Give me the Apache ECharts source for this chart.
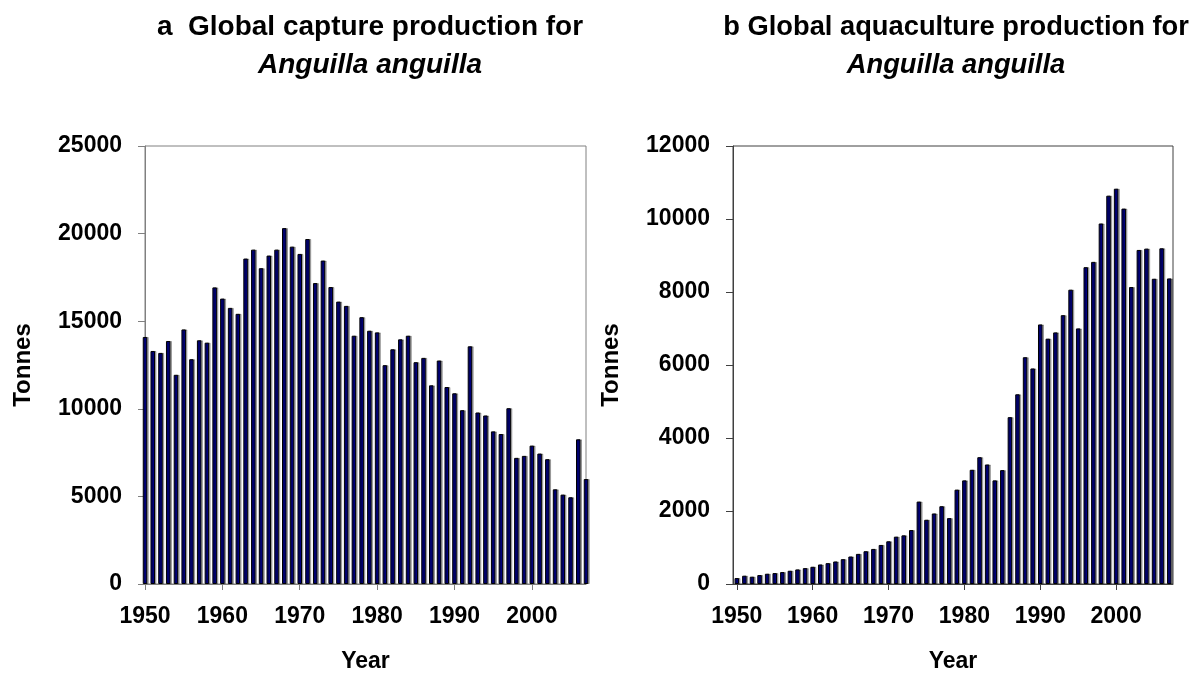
<!DOCTYPE html>
<html>
<head>
<meta charset="utf-8">
<script src="https://cdn.jsdelivr.net/npm/echarts@6/dist/echarts.min.js"></script>
<style>
html,body{margin:0;padding:0;background:#fff;}
#chart{width:1196px;height:678px;}
</style>
</head>
<body>
<div id="chart"></div>
<script>
const years = ['1950','1951','1952','1953','1954','1955','1956','1957','1958','1959',
  '1960','1961','1962','1963','1964','1965','1966','1967','1968','1969',
  '1970','1971','1972','1973','1974','1975','1976','1977','1978','1979',
  '1980','1981','1982','1983','1984','1985','1986','1987','1988','1989',
  '1990','1991','1992','1993','1994','1995','1996','1997','1998','1999',
  '2000','2001','2002','2003','2004','2005','2006','2007'];

const capture = [14100, 13300, 13190, 13870, 11940, 14530, 12830, 13910, 13775, 16930,
  16290, 15760, 15420, 18575, 19085, 18025, 18745, 19085, 20313, 19255,
  18840, 19690, 17176, 18461, 16950, 16118, 15873, 14172, 15230, 14455,
  14361, 12490, 13397, 13964, 14172, 12660, 12906, 11338, 12755, 11243,
  10884, 9920, 13567, 9788, 9618, 8711, 8560, 10034, 7199, 7313,
  7899, 7445, 7124, 5404, 5102, 4951, 8258, 5990];

const aquaculture = [163, 227, 200, 245, 281, 299, 327, 363, 399, 435,
  472, 535, 571, 617, 680, 753, 825, 898, 961, 1070,
  1170, 1297, 1333, 1478, 2258, 1760, 1932, 2131, 1805, 2585,
  2839, 3129, 3474, 3274, 2839, 3120, 4571, 5197, 6213, 5905,
  7111, 6721, 6893, 7365, 8063, 7002, 8680, 8825, 9877, 10639,
  10830, 10285, 8136, 9152, 9188, 8363, 9197, 8372];

const ticksA = [0, 5000, 10000, 15000, 20000, 25000];
const ticksB = [0, 2000, 4000, 6000, 8000, 10000, 12000];

const titleA1 = 'a  Global capture production for';
const titleB1 = 'b Global aquaculture production for';
const species = 'Anguilla anguilla';
const yName = 'Tonnes';
const xName = 'Year';

const FONT = '"Liberation Sans", Arial, Helvetica, sans-serif';
const chart = echarts.init(document.getElementById('chart'), null, {renderer: 'canvas'});

function titleRich(size) {
  return {
    t: {fontFamily: FONT, fontWeight: 'bold', fontSize: size, color: '#000', lineHeight: 38},
    i: {fontFamily: FONT, fontWeight: 'bold', fontStyle: 'italic', fontSize: size, color: '#000', lineHeight: 38}
  };
}

function xAxis(idx, boundary, frameColor) {
  return {
    type: 'category', gridIndex: idx, data: years, boundaryGap: boundary,
    name: xName, nameLocation: 'middle', nameGap: 66,
    nameTextStyle: {fontFamily: FONT, fontWeight: 'bold', fontSize: 23, color: '#000'},
    axisLine: {show: true, lineStyle: {color: frameColor, width: 1}},
    axisTick: {show: true, interval: 9, alignWithLabel: true, length: 6, inside: false, lineStyle: {color: frameColor}},
    axisLabel: {interval: 9, margin: 21, fontFamily: FONT, fontWeight: 'bold', fontSize: 23, color: '#000'},
    splitLine: {show: false}
  };
}

function yAxis(idx, ticks, frameColor) {
  return {
    type: 'value', gridIndex: idx,
    min: ticks[0], max: ticks[ticks.length - 1], interval: ticks[1] - ticks[0],
    name: yName, nameLocation: 'middle', nameRotate: 90, nameGap: 110,
    nameTextStyle: {fontFamily: FONT, fontWeight: 'bold', fontSize: 24, color: '#000'},
    axisLine: {show: true, lineStyle: {color: frameColor, width: 1}},
    axisTick: {show: true, length: 7, inside: false, lineStyle: {color: frameColor}},
    axisLabel: {margin: 23, fontFamily: FONT, fontWeight: 'bold', fontSize: 23, color: '#000',
      formatter: v => String(v)},
    splitLine: {show: false}
  };
}

const barStyle = {
  color: '#000080', borderColor: '#000000', borderWidth: 1,
  shadowColor: 'rgba(0,0,0,0.3)', shadowOffsetX: 1.5, shadowOffsetY: 0, shadowBlur: 0
};

chart.setOption({
  animation: false,
  backgroundColor: '#ffffff',
  title: [
    {text: '{t|' + titleA1 + '}\n{i|' + species + '}', left: 365, top: 3, textAlign: 'center',
      textStyle: {rich: titleRich(28)}},
    {text: '{t|' + titleB1 + '}\n{i|' + species + '}', left: 951, top: 3, textAlign: 'center',
      textStyle: {rich: titleRich(27.3)}}
  ],
  grid: [
    {left: 145, width: 441, top: 146, height: 441, show: true, borderColor: '#808080', borderWidth: 1, backgroundColor: 'transparent'},
    {left: 733, width: 440, top: 146, height: 441, show: true, borderColor: '#404040', borderWidth: 1, backgroundColor: 'transparent'}
  ],
  xAxis: [xAxis(0, false, '#808080'), xAxis(1, true, '#404040')],
  yAxis: [yAxis(0, ticksA, '#808080'), yAxis(1, ticksB, '#404040')],
  series: [
    {type: 'bar', xAxisIndex: 0, yAxisIndex: 0, data: capture, barWidth: 4.5, clip: true, itemStyle: barStyle},
    {type: 'bar', xAxisIndex: 1, yAxisIndex: 1, data: aquaculture, barWidth: 4.5, clip: true, itemStyle: barStyle}
  ]
});
</script>
</body>
</html>
